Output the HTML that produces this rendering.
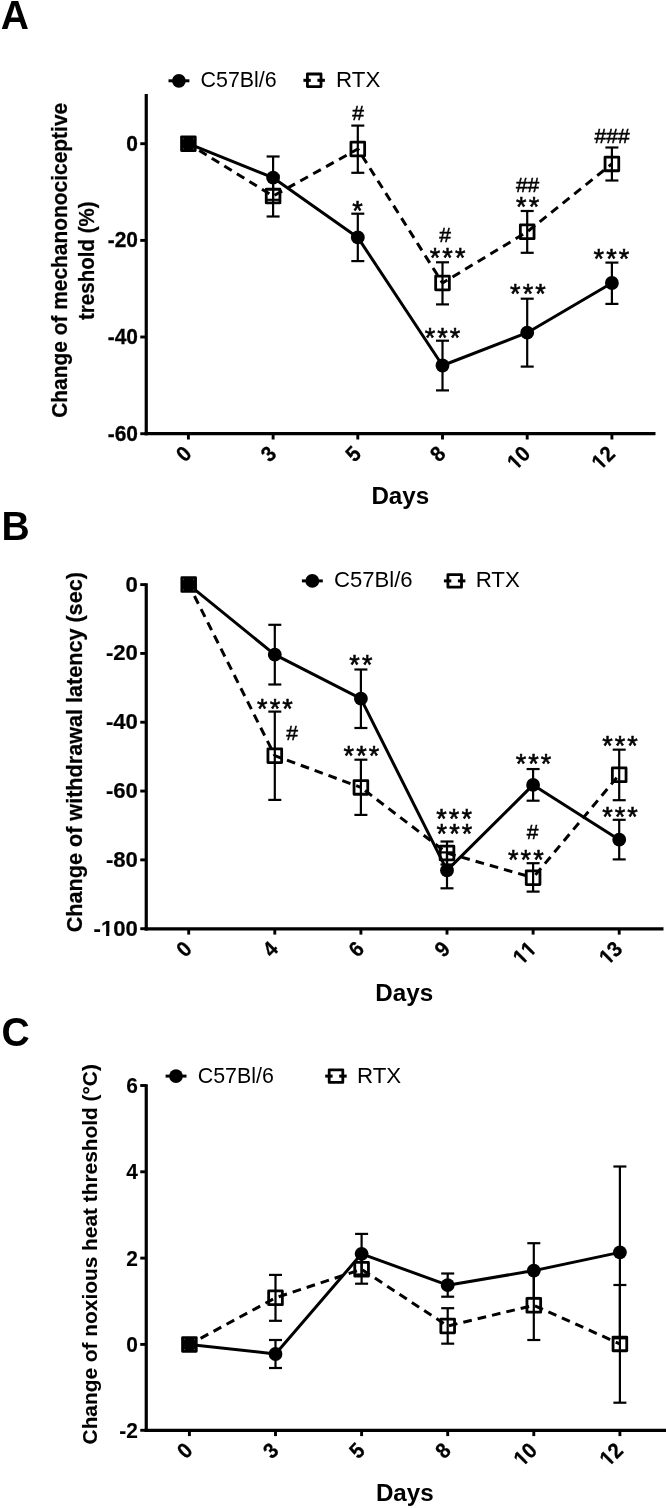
<!DOCTYPE html>
<html><head><meta charset="utf-8"><title>Figure</title>
<style>html,body{margin:0;padding:0;background:#fff}svg{display:block;will-change:transform}</style></head>
<body>
<svg width="666" height="1508" viewBox="0 0 666 1508" font-family="Liberation Sans, sans-serif" fill="#000">
<rect width="666" height="1508" fill="#fff"/>
<line x1="146.25" y1="93.90" x2="146.25" y2="435.30" stroke="#000" stroke-width="3.2" stroke-linecap="butt"/>
<line x1="144.65" y1="433.70" x2="655.50" y2="433.70" stroke="#000" stroke-width="3.2" stroke-linecap="butt"/>
<line x1="140.25" y1="143.70" x2="146.25" y2="143.70" stroke="#000" stroke-width="2.9" stroke-linecap="butt"/>
<text font-size="21.9" text-anchor="end" font-weight="bold" transform="translate(137.95 150.70) scale(0.955 1)" style="font-kerning:none" stroke="#000" stroke-width="0.3">0</text>
<line x1="140.25" y1="240.40" x2="146.25" y2="240.40" stroke="#000" stroke-width="2.9" stroke-linecap="butt"/>
<text font-size="21.9" text-anchor="end" font-weight="bold" transform="translate(137.95 247.40) scale(0.955 1)" style="font-kerning:none" stroke="#000" stroke-width="0.3">-20</text>
<line x1="140.25" y1="337.00" x2="146.25" y2="337.00" stroke="#000" stroke-width="2.9" stroke-linecap="butt"/>
<text font-size="21.9" text-anchor="end" font-weight="bold" transform="translate(137.95 344.00) scale(0.955 1)" style="font-kerning:none" stroke="#000" stroke-width="0.3">-40</text>
<line x1="140.25" y1="433.70" x2="146.25" y2="433.70" stroke="#000" stroke-width="2.9" stroke-linecap="butt"/>
<text font-size="21.9" text-anchor="end" font-weight="bold" transform="translate(137.95 440.70) scale(0.955 1)" style="font-kerning:none" stroke="#000" stroke-width="0.3">-60</text>
<line x1="188.40" y1="433.70" x2="188.40" y2="439.50" stroke="#000" stroke-width="2.9" stroke-linecap="butt"/>
<text font-size="21.6" text-anchor="end" font-weight="bold" transform="translate(192.90 455.20) rotate(-45) scale(0.93 1)" style="font-kerning:none" stroke="#000" stroke-width="0.3">0</text>
<line x1="273.10" y1="433.70" x2="273.10" y2="439.50" stroke="#000" stroke-width="2.9" stroke-linecap="butt"/>
<text font-size="21.6" text-anchor="end" font-weight="bold" transform="translate(277.60 455.20) rotate(-45) scale(0.93 1)" style="font-kerning:none" stroke="#000" stroke-width="0.3">3</text>
<line x1="357.80" y1="433.70" x2="357.80" y2="439.50" stroke="#000" stroke-width="2.9" stroke-linecap="butt"/>
<text font-size="21.6" text-anchor="end" font-weight="bold" transform="translate(362.30 455.20) rotate(-45) scale(0.93 1)" style="font-kerning:none" stroke="#000" stroke-width="0.3">5</text>
<line x1="442.50" y1="433.70" x2="442.50" y2="439.50" stroke="#000" stroke-width="2.9" stroke-linecap="butt"/>
<text font-size="21.6" text-anchor="end" font-weight="bold" transform="translate(447.00 455.20) rotate(-45) scale(0.93 1)" style="font-kerning:none" stroke="#000" stroke-width="0.3">8</text>
<line x1="527.20" y1="433.70" x2="527.20" y2="439.50" stroke="#000" stroke-width="2.9" stroke-linecap="butt"/>
<g transform="translate(531.70 455.20) rotate(-45) scale(0.93 1)">
<text font-size="21.6" text-anchor="end" font-weight="bold" style="font-kerning:none" stroke="#000" stroke-width="0.3">10</text>
<rect x="-23.67" y="-2.90" width="4.63" height="3.60" fill="#fff"/>
<rect x="-15.97" y="-2.90" width="4.36" height="3.60" fill="#fff"/>
</g>
<line x1="611.90" y1="433.70" x2="611.90" y2="439.50" stroke="#000" stroke-width="2.9" stroke-linecap="butt"/>
<g transform="translate(616.40 455.20) rotate(-45) scale(0.93 1)">
<text font-size="21.6" text-anchor="end" font-weight="bold" style="font-kerning:none" stroke="#000" stroke-width="0.3">12</text>
<rect x="-23.67" y="-2.90" width="4.63" height="3.60" fill="#fff"/>
<rect x="-15.97" y="-2.90" width="4.36" height="3.60" fill="#fff"/>
</g>
<text font-size="40.5" text-anchor="start" font-weight="bold" transform="translate(0.70 29.10) scale(0.965 1)" style="font-kerning:none">A</text>
<text x="400.30" y="503.80" font-size="24.2" text-anchor="middle" font-weight="bold">Days</text>
<text x="67.40" y="260.35" font-size="21.8" text-anchor="middle" font-weight="bold" transform="rotate(-90 67.40 260.35)" textLength="315" lengthAdjust="spacingAndGlyphs" stroke="#000" stroke-width="0.25">Change of mechanonociceptive</text>
<text x="93.60" y="260.70" font-size="21.8" text-anchor="middle" font-weight="bold" transform="rotate(-90 93.60 260.70)" textLength="118.5" lengthAdjust="spacingAndGlyphs" stroke="#000" stroke-width="0.25">treshold (%)</text>
<line x1="188.40" y1="143.70" x2="273.10" y2="196.10" stroke="#000" stroke-width="3.0" stroke-dasharray="8.7 6.05" stroke-dashoffset="2.00"/>
<line x1="273.10" y1="196.10" x2="357.80" y2="149.00" stroke="#000" stroke-width="3.0" stroke-dasharray="8.7 6.05" stroke-dashoffset="13.10"/>
<line x1="357.80" y1="149.00" x2="442.50" y2="283.00" stroke="#000" stroke-width="3.0" stroke-dasharray="8.7 6.05" stroke-dashoffset="6.76"/>
<line x1="442.50" y1="283.00" x2="527.20" y2="231.80" stroke="#000" stroke-width="3.0" stroke-dasharray="8.7 6.05" stroke-dashoffset="3.04"/>
<line x1="527.20" y1="231.80" x2="611.90" y2="163.90" stroke="#000" stroke-width="3.0" stroke-dasharray="8.7 6.05" stroke-dashoffset="13.51"/>
<polyline points="188.40,143.70 273.10,177.70 357.80,237.40 442.50,365.50 527.20,332.70 611.90,283.00" fill="none" stroke="#000" stroke-width="3.0" stroke-linejoin="round"/>
<line x1="273.10" y1="175.70" x2="273.10" y2="216.50" stroke="#000" stroke-width="2.2" stroke-linecap="butt"/>
<line x1="266.60" y1="175.70" x2="279.60" y2="175.70" stroke="#000" stroke-width="2.2" stroke-linecap="butt"/>
<line x1="266.60" y1="216.50" x2="279.60" y2="216.50" stroke="#000" stroke-width="2.2" stroke-linecap="butt"/>
<line x1="357.80" y1="125.60" x2="357.80" y2="172.80" stroke="#000" stroke-width="2.2" stroke-linecap="butt"/>
<line x1="351.30" y1="125.60" x2="364.30" y2="125.60" stroke="#000" stroke-width="2.2" stroke-linecap="butt"/>
<line x1="351.30" y1="172.80" x2="364.30" y2="172.80" stroke="#000" stroke-width="2.2" stroke-linecap="butt"/>
<line x1="442.50" y1="262.30" x2="442.50" y2="304.40" stroke="#000" stroke-width="2.2" stroke-linecap="butt"/>
<line x1="436.00" y1="262.30" x2="449.00" y2="262.30" stroke="#000" stroke-width="2.2" stroke-linecap="butt"/>
<line x1="436.00" y1="304.40" x2="449.00" y2="304.40" stroke="#000" stroke-width="2.2" stroke-linecap="butt"/>
<line x1="527.20" y1="211.00" x2="527.20" y2="252.80" stroke="#000" stroke-width="2.2" stroke-linecap="butt"/>
<line x1="520.70" y1="211.00" x2="533.70" y2="211.00" stroke="#000" stroke-width="2.2" stroke-linecap="butt"/>
<line x1="520.70" y1="252.80" x2="533.70" y2="252.80" stroke="#000" stroke-width="2.2" stroke-linecap="butt"/>
<line x1="611.90" y1="147.50" x2="611.90" y2="180.50" stroke="#000" stroke-width="2.2" stroke-linecap="butt"/>
<line x1="605.40" y1="147.50" x2="618.40" y2="147.50" stroke="#000" stroke-width="2.2" stroke-linecap="butt"/>
<line x1="605.40" y1="180.50" x2="618.40" y2="180.50" stroke="#000" stroke-width="2.2" stroke-linecap="butt"/>
<line x1="273.10" y1="156.50" x2="273.10" y2="199.80" stroke="#000" stroke-width="2.2" stroke-linecap="butt"/>
<line x1="266.60" y1="156.50" x2="279.60" y2="156.50" stroke="#000" stroke-width="2.2" stroke-linecap="butt"/>
<line x1="266.60" y1="199.80" x2="279.60" y2="199.80" stroke="#000" stroke-width="2.2" stroke-linecap="butt"/>
<line x1="357.80" y1="213.70" x2="357.80" y2="261.10" stroke="#000" stroke-width="2.2" stroke-linecap="butt"/>
<line x1="351.30" y1="213.70" x2="364.30" y2="213.70" stroke="#000" stroke-width="2.2" stroke-linecap="butt"/>
<line x1="351.30" y1="261.10" x2="364.30" y2="261.10" stroke="#000" stroke-width="2.2" stroke-linecap="butt"/>
<line x1="442.50" y1="340.70" x2="442.50" y2="390.40" stroke="#000" stroke-width="2.2" stroke-linecap="butt"/>
<line x1="436.00" y1="340.70" x2="449.00" y2="340.70" stroke="#000" stroke-width="2.2" stroke-linecap="butt"/>
<line x1="436.00" y1="390.40" x2="449.00" y2="390.40" stroke="#000" stroke-width="2.2" stroke-linecap="butt"/>
<line x1="527.20" y1="298.70" x2="527.20" y2="366.60" stroke="#000" stroke-width="2.2" stroke-linecap="butt"/>
<line x1="520.70" y1="298.70" x2="533.70" y2="298.70" stroke="#000" stroke-width="2.2" stroke-linecap="butt"/>
<line x1="520.70" y1="366.60" x2="533.70" y2="366.60" stroke="#000" stroke-width="2.2" stroke-linecap="butt"/>
<line x1="611.90" y1="262.60" x2="611.90" y2="303.90" stroke="#000" stroke-width="2.2" stroke-linecap="butt"/>
<line x1="605.40" y1="262.60" x2="618.40" y2="262.60" stroke="#000" stroke-width="2.2" stroke-linecap="butt"/>
<line x1="605.40" y1="303.90" x2="618.40" y2="303.90" stroke="#000" stroke-width="2.2" stroke-linecap="butt"/>
<circle cx="273.10" cy="177.70" r="6.9" fill="#000"/>
<circle cx="357.80" cy="237.40" r="6.9" fill="#000"/>
<circle cx="442.50" cy="365.50" r="6.9" fill="#000"/>
<circle cx="527.20" cy="332.70" r="6.9" fill="#000"/>
<circle cx="611.90" cy="283.00" r="6.9" fill="#000"/>
<rect x="181.55" y="136.85" width="13.7" height="13.7" fill="#000" stroke="#000" stroke-width="2.8" stroke-linejoin="round"/>
<circle cx="183.35" cy="138.65" r="0.5" fill="#666"/>
<circle cx="183.35" cy="148.75" r="0.5" fill="#666"/>
<circle cx="193.45" cy="138.65" r="0.5" fill="#666"/>
<circle cx="193.45" cy="148.75" r="0.5" fill="#666"/>
<rect x="266.25" y="189.25" width="13.7" height="13.7" fill="none" stroke="#000" stroke-width="2.8" stroke-linejoin="round"/>
<rect x="350.95" y="142.15" width="13.7" height="13.7" fill="none" stroke="#000" stroke-width="2.8" stroke-linejoin="round"/>
<rect x="435.65" y="276.15" width="13.7" height="13.7" fill="none" stroke="#000" stroke-width="2.8" stroke-linejoin="round"/>
<rect x="520.35" y="224.95" width="13.7" height="13.7" fill="none" stroke="#000" stroke-width="2.8" stroke-linejoin="round"/>
<rect x="605.05" y="157.05" width="13.7" height="13.7" fill="none" stroke="#000" stroke-width="2.8" stroke-linejoin="round"/>
<text x="358.00" y="119.60" font-size="21" text-anchor="middle" stroke="#000" stroke-width="0.5">#</text>
<text x="357.60" y="219.84" font-size="27" text-anchor="middle" stroke="#000" stroke-width="0.55">*</text>
<text x="435.00" y="267.14" font-size="27" text-anchor="middle" stroke="#000" stroke-width="0.55">*</text>
<text x="447.60" y="267.14" font-size="27" text-anchor="middle" stroke="#000" stroke-width="0.55">*</text>
<text x="460.20" y="267.14" font-size="27" text-anchor="middle" stroke="#000" stroke-width="0.55">*</text>
<text x="445.00" y="241.60" font-size="21" text-anchor="middle" stroke="#000" stroke-width="0.5">#</text>
<text x="429.90" y="346.54" font-size="27" text-anchor="middle" stroke="#000" stroke-width="0.55">*</text>
<text x="442.50" y="346.54" font-size="27" text-anchor="middle" stroke="#000" stroke-width="0.55">*</text>
<text x="455.10" y="346.54" font-size="27" text-anchor="middle" stroke="#000" stroke-width="0.55">*</text>
<text x="521.30" y="216.04" font-size="27" text-anchor="middle" stroke="#000" stroke-width="0.55">*</text>
<text x="533.90" y="216.04" font-size="27" text-anchor="middle" stroke="#000" stroke-width="0.55">*</text>
<text x="527.60" y="192.20" font-size="21" text-anchor="middle" stroke="#000" stroke-width="0.5">##</text>
<text x="515.30" y="303.34" font-size="27" text-anchor="middle" stroke="#000" stroke-width="0.55">*</text>
<text x="527.90" y="303.34" font-size="27" text-anchor="middle" stroke="#000" stroke-width="0.55">*</text>
<text x="540.50" y="303.34" font-size="27" text-anchor="middle" stroke="#000" stroke-width="0.55">*</text>
<text x="612.10" y="143.20" font-size="21" text-anchor="middle" stroke="#000" stroke-width="0.5">###</text>
<text x="598.80" y="268.04" font-size="27" text-anchor="middle" stroke="#000" stroke-width="0.55">*</text>
<text x="611.40" y="268.04" font-size="27" text-anchor="middle" stroke="#000" stroke-width="0.55">*</text>
<text x="624.00" y="268.04" font-size="27" text-anchor="middle" stroke="#000" stroke-width="0.55">*</text>
<line x1="168.50" y1="80.80" x2="189.40" y2="80.80" stroke="#000" stroke-width="3.0" stroke-linecap="butt"/>
<circle cx="178.90" cy="80.80" r="6.9" fill="#000"/>
<text x="200.60" y="87.30" font-size="21.4" text-anchor="start">C57Bl/6</text>
<line x1="303.40" y1="80.30" x2="310.80" y2="80.30" stroke="#000" stroke-width="3.0" stroke-linecap="butt"/>
<line x1="317.40" y1="80.30" x2="324.90" y2="80.30" stroke="#000" stroke-width="3.0" stroke-linecap="butt"/>
<rect x="307.40" y="74.00" width="13.6" height="12.6" fill="none" stroke="#000" stroke-width="2.8" stroke-linejoin="round"/>
<text x="336.07" y="86.80" font-size="22.3" text-anchor="start">RTX</text>
<line x1="146.25" y1="583.35" x2="146.25" y2="930.40" stroke="#000" stroke-width="3.2" stroke-linecap="butt"/>
<line x1="144.65" y1="928.80" x2="663.50" y2="928.80" stroke="#000" stroke-width="3.2" stroke-linecap="butt"/>
<line x1="140.25" y1="584.60" x2="146.25" y2="584.60" stroke="#000" stroke-width="2.9" stroke-linecap="butt"/>
<text font-size="22.5" text-anchor="end" font-weight="bold" transform="translate(137.95 591.60) scale(0.985 1)" style="font-kerning:none" stroke="#000" stroke-width="0.2">0</text>
<line x1="140.25" y1="653.42" x2="146.25" y2="653.42" stroke="#000" stroke-width="2.9" stroke-linecap="butt"/>
<text font-size="22.5" text-anchor="end" font-weight="bold" transform="translate(137.95 660.42) scale(0.985 1)" style="font-kerning:none" stroke="#000" stroke-width="0.2">-20</text>
<line x1="140.25" y1="722.24" x2="146.25" y2="722.24" stroke="#000" stroke-width="2.9" stroke-linecap="butt"/>
<text font-size="22.5" text-anchor="end" font-weight="bold" transform="translate(137.95 729.24) scale(0.985 1)" style="font-kerning:none" stroke="#000" stroke-width="0.2">-40</text>
<line x1="140.25" y1="791.06" x2="146.25" y2="791.06" stroke="#000" stroke-width="2.9" stroke-linecap="butt"/>
<text font-size="22.5" text-anchor="end" font-weight="bold" transform="translate(137.95 798.06) scale(0.985 1)" style="font-kerning:none" stroke="#000" stroke-width="0.2">-60</text>
<line x1="140.25" y1="859.88" x2="146.25" y2="859.88" stroke="#000" stroke-width="2.9" stroke-linecap="butt"/>
<text font-size="22.5" text-anchor="end" font-weight="bold" transform="translate(137.95 866.88) scale(0.985 1)" style="font-kerning:none" stroke="#000" stroke-width="0.2">-80</text>
<line x1="140.25" y1="928.70" x2="146.25" y2="928.70" stroke="#000" stroke-width="2.9" stroke-linecap="butt"/>
<g transform="translate(137.95 935.70) scale(0.985 1)">
<text font-size="22.5" text-anchor="end" font-weight="bold" style="font-kerning:none" stroke="#000" stroke-width="0.2">-100</text>
<rect x="-37.12" y="-3.00" width="4.78" height="3.70" fill="#fff"/>
<rect x="-29.15" y="-3.00" width="4.50" height="3.70" fill="#fff"/>
</g>
<line x1="188.70" y1="928.80" x2="188.70" y2="934.60" stroke="#000" stroke-width="2.9" stroke-linecap="butt"/>
<text font-size="21.6" text-anchor="end" font-weight="bold" transform="translate(193.20 950.30) rotate(-45) scale(0.93 1)" style="font-kerning:none" stroke="#000" stroke-width="0.3">0</text>
<line x1="274.80" y1="928.80" x2="274.80" y2="934.60" stroke="#000" stroke-width="2.9" stroke-linecap="butt"/>
<text font-size="21.6" text-anchor="end" font-weight="bold" transform="translate(279.30 950.30) rotate(-45) scale(0.93 1)" style="font-kerning:none" stroke="#000" stroke-width="0.3">4</text>
<line x1="360.90" y1="928.80" x2="360.90" y2="934.60" stroke="#000" stroke-width="2.9" stroke-linecap="butt"/>
<text font-size="21.6" text-anchor="end" font-weight="bold" transform="translate(365.40 950.30) rotate(-45) scale(0.93 1)" style="font-kerning:none" stroke="#000" stroke-width="0.3">6</text>
<line x1="447.00" y1="928.80" x2="447.00" y2="934.60" stroke="#000" stroke-width="2.9" stroke-linecap="butt"/>
<text font-size="21.6" text-anchor="end" font-weight="bold" transform="translate(451.50 950.30) rotate(-45) scale(0.93 1)" style="font-kerning:none" stroke="#000" stroke-width="0.3">9</text>
<line x1="533.10" y1="928.80" x2="533.10" y2="934.60" stroke="#000" stroke-width="2.9" stroke-linecap="butt"/>
<g transform="translate(537.60 950.30) rotate(-45) scale(0.93 1)">
<text font-size="21.6" text-anchor="end" font-weight="bold" style="font-kerning:none" stroke="#000" stroke-width="0.3">11</text>
<rect x="-23.67" y="-2.90" width="4.63" height="3.60" fill="#fff"/>
<rect x="-15.97" y="-2.90" width="4.36" height="3.60" fill="#fff"/>
<rect x="-11.65" y="-2.90" width="4.63" height="3.60" fill="#fff"/>
<rect x="-3.96" y="-2.90" width="4.36" height="3.60" fill="#fff"/>
</g>
<line x1="619.20" y1="928.80" x2="619.20" y2="934.60" stroke="#000" stroke-width="2.9" stroke-linecap="butt"/>
<g transform="translate(623.70 950.30) rotate(-45) scale(0.93 1)">
<text font-size="21.6" text-anchor="end" font-weight="bold" style="font-kerning:none" stroke="#000" stroke-width="0.3">13</text>
<rect x="-23.67" y="-2.90" width="4.63" height="3.60" fill="#fff"/>
<rect x="-15.97" y="-2.90" width="4.36" height="3.60" fill="#fff"/>
</g>
<text font-size="40.5" text-anchor="start" font-weight="bold" transform="translate(1.40 539.70) scale(0.965 1)" style="font-kerning:none">B</text>
<text x="404.20" y="1000.80" font-size="24.2" text-anchor="middle" font-weight="bold">Days</text>
<text x="81.80" y="752.20" font-size="21.5" text-anchor="middle" font-weight="bold" transform="rotate(-90 81.80 752.20)" textLength="360.1" lengthAdjust="spacingAndGlyphs" stroke="#000" stroke-width="0.25">Change of withdrawal latency (sec)</text>
<line x1="188.70" y1="584.60" x2="274.80" y2="755.70" stroke="#000" stroke-width="3.0" stroke-dasharray="8.7 6.05" stroke-dashoffset="2.00"/>
<line x1="274.80" y1="755.70" x2="360.90" y2="787.40" stroke="#000" stroke-width="3.0" stroke-dasharray="8.7 6.05" stroke-dashoffset="1.79"/>
<line x1="360.90" y1="787.40" x2="447.00" y2="853.00" stroke="#000" stroke-width="3.0" stroke-dasharray="8.7 6.05" stroke-dashoffset="9.55"/>
<line x1="447.00" y1="853.00" x2="533.10" y2="877.70" stroke="#000" stroke-width="3.0" stroke-dasharray="8.7 6.05" stroke-dashoffset="14.50"/>
<line x1="533.10" y1="877.70" x2="619.20" y2="774.80" stroke="#000" stroke-width="3.0" stroke-dasharray="8.7 6.05" stroke-dashoffset="11.11"/>
<polyline points="188.70,584.60 274.80,654.70 360.90,698.70 447.00,870.40 533.10,784.90 619.20,839.70" fill="none" stroke="#000" stroke-width="3.0" stroke-linejoin="round"/>
<line x1="274.80" y1="711.60" x2="274.80" y2="799.90" stroke="#000" stroke-width="2.2" stroke-linecap="butt"/>
<line x1="268.30" y1="711.60" x2="281.30" y2="711.60" stroke="#000" stroke-width="2.2" stroke-linecap="butt"/>
<line x1="268.30" y1="799.90" x2="281.30" y2="799.90" stroke="#000" stroke-width="2.2" stroke-linecap="butt"/>
<line x1="360.90" y1="759.70" x2="360.90" y2="814.90" stroke="#000" stroke-width="2.2" stroke-linecap="butt"/>
<line x1="354.40" y1="759.70" x2="367.40" y2="759.70" stroke="#000" stroke-width="2.2" stroke-linecap="butt"/>
<line x1="354.40" y1="814.90" x2="367.40" y2="814.90" stroke="#000" stroke-width="2.2" stroke-linecap="butt"/>
<line x1="447.00" y1="841.50" x2="447.00" y2="864.50" stroke="#000" stroke-width="2.2" stroke-linecap="butt"/>
<line x1="440.50" y1="841.50" x2="453.50" y2="841.50" stroke="#000" stroke-width="2.2" stroke-linecap="butt"/>
<line x1="440.50" y1="864.50" x2="453.50" y2="864.50" stroke="#000" stroke-width="2.2" stroke-linecap="butt"/>
<line x1="533.10" y1="863.20" x2="533.10" y2="891.60" stroke="#000" stroke-width="2.2" stroke-linecap="butt"/>
<line x1="526.60" y1="863.20" x2="539.60" y2="863.20" stroke="#000" stroke-width="2.2" stroke-linecap="butt"/>
<line x1="526.60" y1="891.60" x2="539.60" y2="891.60" stroke="#000" stroke-width="2.2" stroke-linecap="butt"/>
<line x1="619.20" y1="749.65" x2="619.20" y2="800.20" stroke="#000" stroke-width="2.2" stroke-linecap="butt"/>
<line x1="612.70" y1="749.65" x2="625.70" y2="749.65" stroke="#000" stroke-width="2.2" stroke-linecap="butt"/>
<line x1="612.70" y1="800.20" x2="625.70" y2="800.20" stroke="#000" stroke-width="2.2" stroke-linecap="butt"/>
<line x1="274.80" y1="624.80" x2="274.80" y2="684.50" stroke="#000" stroke-width="2.2" stroke-linecap="butt"/>
<line x1="268.30" y1="624.80" x2="281.30" y2="624.80" stroke="#000" stroke-width="2.2" stroke-linecap="butt"/>
<line x1="268.30" y1="684.50" x2="281.30" y2="684.50" stroke="#000" stroke-width="2.2" stroke-linecap="butt"/>
<line x1="360.90" y1="669.50" x2="360.90" y2="728.00" stroke="#000" stroke-width="2.2" stroke-linecap="butt"/>
<line x1="354.40" y1="669.50" x2="367.40" y2="669.50" stroke="#000" stroke-width="2.2" stroke-linecap="butt"/>
<line x1="354.40" y1="728.00" x2="367.40" y2="728.00" stroke="#000" stroke-width="2.2" stroke-linecap="butt"/>
<line x1="447.00" y1="852.40" x2="447.00" y2="888.30" stroke="#000" stroke-width="2.2" stroke-linecap="butt"/>
<line x1="440.50" y1="852.40" x2="453.50" y2="852.40" stroke="#000" stroke-width="2.2" stroke-linecap="butt"/>
<line x1="440.50" y1="888.30" x2="453.50" y2="888.30" stroke="#000" stroke-width="2.2" stroke-linecap="butt"/>
<line x1="533.10" y1="769.05" x2="533.10" y2="800.70" stroke="#000" stroke-width="2.2" stroke-linecap="butt"/>
<line x1="526.60" y1="769.05" x2="539.60" y2="769.05" stroke="#000" stroke-width="2.2" stroke-linecap="butt"/>
<line x1="526.60" y1="800.70" x2="539.60" y2="800.70" stroke="#000" stroke-width="2.2" stroke-linecap="butt"/>
<line x1="619.20" y1="819.80" x2="619.20" y2="859.40" stroke="#000" stroke-width="2.2" stroke-linecap="butt"/>
<line x1="612.70" y1="819.80" x2="625.70" y2="819.80" stroke="#000" stroke-width="2.2" stroke-linecap="butt"/>
<line x1="612.70" y1="859.40" x2="625.70" y2="859.40" stroke="#000" stroke-width="2.2" stroke-linecap="butt"/>
<circle cx="274.80" cy="654.70" r="6.9" fill="#000"/>
<circle cx="360.90" cy="698.70" r="6.9" fill="#000"/>
<circle cx="447.00" cy="870.40" r="6.9" fill="#000"/>
<circle cx="533.10" cy="784.90" r="6.9" fill="#000"/>
<circle cx="619.20" cy="839.70" r="6.9" fill="#000"/>
<rect x="181.85" y="577.75" width="13.7" height="13.7" fill="#000" stroke="#000" stroke-width="2.8" stroke-linejoin="round"/>
<circle cx="183.65" cy="579.55" r="0.5" fill="#666"/>
<circle cx="183.65" cy="589.65" r="0.5" fill="#666"/>
<circle cx="193.75" cy="579.55" r="0.5" fill="#666"/>
<circle cx="193.75" cy="589.65" r="0.5" fill="#666"/>
<rect x="267.95" y="748.85" width="13.7" height="13.7" fill="none" stroke="#000" stroke-width="2.8" stroke-linejoin="round"/>
<rect x="354.05" y="780.55" width="13.7" height="13.7" fill="none" stroke="#000" stroke-width="2.8" stroke-linejoin="round"/>
<rect x="440.15" y="846.15" width="13.7" height="13.7" fill="none" stroke="#000" stroke-width="2.8" stroke-linejoin="round"/>
<rect x="526.25" y="870.85" width="13.7" height="13.7" fill="none" stroke="#000" stroke-width="2.8" stroke-linejoin="round"/>
<rect x="612.35" y="767.95" width="13.7" height="13.7" fill="none" stroke="#000" stroke-width="2.8" stroke-linejoin="round"/>
<text x="262.30" y="717.74" font-size="27" text-anchor="middle" stroke="#000" stroke-width="0.55">*</text>
<text x="274.90" y="717.74" font-size="27" text-anchor="middle" stroke="#000" stroke-width="0.55">*</text>
<text x="287.50" y="717.74" font-size="27" text-anchor="middle" stroke="#000" stroke-width="0.55">*</text>
<text x="292.00" y="740.20" font-size="21" text-anchor="middle" stroke="#000" stroke-width="0.5">#</text>
<text x="354.60" y="674.24" font-size="27" text-anchor="middle" stroke="#000" stroke-width="0.55">*</text>
<text x="367.20" y="674.24" font-size="27" text-anchor="middle" stroke="#000" stroke-width="0.55">*</text>
<text x="348.80" y="765.04" font-size="27" text-anchor="middle" stroke="#000" stroke-width="0.55">*</text>
<text x="361.40" y="765.04" font-size="27" text-anchor="middle" stroke="#000" stroke-width="0.55">*</text>
<text x="374.00" y="765.04" font-size="27" text-anchor="middle" stroke="#000" stroke-width="0.55">*</text>
<text x="441.50" y="828.14" font-size="27" text-anchor="middle" stroke="#000" stroke-width="0.55">*</text>
<text x="454.10" y="828.14" font-size="27" text-anchor="middle" stroke="#000" stroke-width="0.55">*</text>
<text x="466.70" y="828.14" font-size="27" text-anchor="middle" stroke="#000" stroke-width="0.55">*</text>
<text x="441.80" y="843.24" font-size="27" text-anchor="middle" stroke="#000" stroke-width="0.55">*</text>
<text x="454.40" y="843.24" font-size="27" text-anchor="middle" stroke="#000" stroke-width="0.55">*</text>
<text x="467.00" y="843.24" font-size="27" text-anchor="middle" stroke="#000" stroke-width="0.55">*</text>
<text x="520.90" y="773.44" font-size="27" text-anchor="middle" stroke="#000" stroke-width="0.55">*</text>
<text x="533.50" y="773.44" font-size="27" text-anchor="middle" stroke="#000" stroke-width="0.55">*</text>
<text x="546.10" y="773.44" font-size="27" text-anchor="middle" stroke="#000" stroke-width="0.55">*</text>
<text x="513.20" y="868.74" font-size="27" text-anchor="middle" stroke="#000" stroke-width="0.55">*</text>
<text x="525.80" y="868.74" font-size="27" text-anchor="middle" stroke="#000" stroke-width="0.55">*</text>
<text x="538.40" y="868.74" font-size="27" text-anchor="middle" stroke="#000" stroke-width="0.55">*</text>
<text x="532.50" y="838.95" font-size="21" text-anchor="middle" stroke="#000" stroke-width="0.5">#</text>
<text x="607.40" y="754.64" font-size="27" text-anchor="middle" stroke="#000" stroke-width="0.55">*</text>
<text x="620.00" y="754.64" font-size="27" text-anchor="middle" stroke="#000" stroke-width="0.55">*</text>
<text x="632.60" y="754.64" font-size="27" text-anchor="middle" stroke="#000" stroke-width="0.55">*</text>
<text x="607.40" y="826.34" font-size="27" text-anchor="middle" stroke="#000" stroke-width="0.55">*</text>
<text x="620.00" y="826.34" font-size="27" text-anchor="middle" stroke="#000" stroke-width="0.55">*</text>
<text x="632.60" y="826.34" font-size="27" text-anchor="middle" stroke="#000" stroke-width="0.55">*</text>
<line x1="301.90" y1="580.90" x2="322.80" y2="580.90" stroke="#000" stroke-width="3.0" stroke-linecap="butt"/>
<circle cx="312.30" cy="580.90" r="6.9" fill="#000"/>
<text x="334.00" y="587.40" font-size="22.1" text-anchor="start">C57Bl/6</text>
<line x1="443.90" y1="580.90" x2="451.30" y2="580.90" stroke="#000" stroke-width="3.0" stroke-linecap="butt"/>
<line x1="457.90" y1="580.90" x2="465.40" y2="580.90" stroke="#000" stroke-width="3.0" stroke-linecap="butt"/>
<rect x="447.90" y="574.60" width="13.6" height="12.6" fill="none" stroke="#000" stroke-width="2.8" stroke-linejoin="round"/>
<text x="475.67" y="587.40" font-size="22.3" text-anchor="start">RTX</text>
<line x1="146.25" y1="1084.25" x2="146.25" y2="1431.90" stroke="#000" stroke-width="3.2" stroke-linecap="butt"/>
<line x1="144.65" y1="1430.30" x2="666.00" y2="1430.30" stroke="#000" stroke-width="3.2" stroke-linecap="butt"/>
<line x1="140.25" y1="1085.50" x2="146.25" y2="1085.50" stroke="#000" stroke-width="2.9" stroke-linecap="butt"/>
<text font-size="21.9" text-anchor="end" font-weight="bold" transform="translate(137.95 1092.90) scale(0.955 1)" style="font-kerning:none" stroke="#000" stroke-width="0.1">6</text>
<line x1="140.25" y1="1171.80" x2="146.25" y2="1171.80" stroke="#000" stroke-width="2.9" stroke-linecap="butt"/>
<text font-size="21.9" text-anchor="end" font-weight="bold" transform="translate(137.95 1179.20) scale(0.955 1)" style="font-kerning:none" stroke="#000" stroke-width="0.1">4</text>
<line x1="140.25" y1="1258.10" x2="146.25" y2="1258.10" stroke="#000" stroke-width="2.9" stroke-linecap="butt"/>
<text font-size="21.9" text-anchor="end" font-weight="bold" transform="translate(137.95 1265.50) scale(0.955 1)" style="font-kerning:none" stroke="#000" stroke-width="0.1">2</text>
<line x1="140.25" y1="1344.40" x2="146.25" y2="1344.40" stroke="#000" stroke-width="2.9" stroke-linecap="butt"/>
<text font-size="21.9" text-anchor="end" font-weight="bold" transform="translate(137.95 1351.80) scale(0.955 1)" style="font-kerning:none" stroke="#000" stroke-width="0.1">0</text>
<line x1="140.25" y1="1430.30" x2="146.25" y2="1430.30" stroke="#000" stroke-width="2.9" stroke-linecap="butt"/>
<text font-size="21.9" text-anchor="end" font-weight="bold" transform="translate(137.95 1437.70) scale(0.955 1)" style="font-kerning:none" stroke="#000" stroke-width="0.1">-2</text>
<line x1="189.40" y1="1430.30" x2="189.40" y2="1436.10" stroke="#000" stroke-width="2.9" stroke-linecap="butt"/>
<text font-size="21.6" text-anchor="end" font-weight="bold" transform="translate(193.90 1451.80) rotate(-45) scale(0.93 1)" style="font-kerning:none" stroke="#000" stroke-width="0.3">0</text>
<line x1="275.50" y1="1430.30" x2="275.50" y2="1436.10" stroke="#000" stroke-width="2.9" stroke-linecap="butt"/>
<text font-size="21.6" text-anchor="end" font-weight="bold" transform="translate(280.00 1451.80) rotate(-45) scale(0.93 1)" style="font-kerning:none" stroke="#000" stroke-width="0.3">3</text>
<line x1="361.60" y1="1430.30" x2="361.60" y2="1436.10" stroke="#000" stroke-width="2.9" stroke-linecap="butt"/>
<text font-size="21.6" text-anchor="end" font-weight="bold" transform="translate(366.10 1451.80) rotate(-45) scale(0.93 1)" style="font-kerning:none" stroke="#000" stroke-width="0.3">5</text>
<line x1="447.70" y1="1430.30" x2="447.70" y2="1436.10" stroke="#000" stroke-width="2.9" stroke-linecap="butt"/>
<text font-size="21.6" text-anchor="end" font-weight="bold" transform="translate(452.20 1451.80) rotate(-45) scale(0.93 1)" style="font-kerning:none" stroke="#000" stroke-width="0.3">8</text>
<line x1="533.80" y1="1430.30" x2="533.80" y2="1436.10" stroke="#000" stroke-width="2.9" stroke-linecap="butt"/>
<g transform="translate(538.30 1451.80) rotate(-45) scale(0.93 1)">
<text font-size="21.6" text-anchor="end" font-weight="bold" style="font-kerning:none" stroke="#000" stroke-width="0.3">10</text>
<rect x="-23.67" y="-2.90" width="4.63" height="3.60" fill="#fff"/>
<rect x="-15.97" y="-2.90" width="4.36" height="3.60" fill="#fff"/>
</g>
<line x1="619.90" y1="1430.30" x2="619.90" y2="1436.10" stroke="#000" stroke-width="2.9" stroke-linecap="butt"/>
<g transform="translate(624.40 1451.80) rotate(-45) scale(0.93 1)">
<text font-size="21.6" text-anchor="end" font-weight="bold" style="font-kerning:none" stroke="#000" stroke-width="0.3">12</text>
<rect x="-23.67" y="-2.90" width="4.63" height="3.60" fill="#fff"/>
<rect x="-15.97" y="-2.90" width="4.36" height="3.60" fill="#fff"/>
</g>
<text font-size="40.5" text-anchor="start" font-weight="bold" transform="translate(1.40 1045.60) scale(0.965 1)" style="font-kerning:none">C</text>
<text x="404.80" y="1500.60" font-size="24.2" text-anchor="middle" font-weight="bold">Days</text>
<text x="96.90" y="1254.30" font-size="20.8" text-anchor="middle" font-weight="bold" transform="rotate(-90 96.90 1254.30)" textLength="380.3" lengthAdjust="spacingAndGlyphs" stroke="#000" stroke-width="0.1">Change of noxious heat threshold (°C)</text>
<line x1="189.40" y1="1344.40" x2="275.50" y2="1297.80" stroke="#000" stroke-width="3.0" stroke-dasharray="8.7 6.05" stroke-dashoffset="2.00"/>
<line x1="275.50" y1="1297.80" x2="361.60" y2="1269.30" stroke="#000" stroke-width="3.0" stroke-dasharray="8.7 6.05" stroke-dashoffset="11.40"/>
<line x1="361.60" y1="1269.30" x2="447.70" y2="1326.00" stroke="#000" stroke-width="3.0" stroke-dasharray="8.7 6.05" stroke-dashoffset="13.60"/>
<line x1="447.70" y1="1326.00" x2="533.80" y2="1305.30" stroke="#000" stroke-width="3.0" stroke-dasharray="8.7 6.05" stroke-dashoffset="13.44"/>
<line x1="533.80" y1="1305.30" x2="619.90" y2="1343.90" stroke="#000" stroke-width="3.0" stroke-dasharray="8.7 6.05" stroke-dashoffset="13.49"/>
<polyline points="189.40,1344.40 275.50,1354.00 361.60,1253.80 447.70,1285.20 533.80,1270.60 619.90,1252.40" fill="none" stroke="#000" stroke-width="3.0" stroke-linejoin="round"/>
<line x1="275.50" y1="1274.90" x2="275.50" y2="1320.80" stroke="#000" stroke-width="2.2" stroke-linecap="butt"/>
<line x1="269.00" y1="1274.90" x2="282.00" y2="1274.90" stroke="#000" stroke-width="2.2" stroke-linecap="butt"/>
<line x1="269.00" y1="1320.80" x2="282.00" y2="1320.80" stroke="#000" stroke-width="2.2" stroke-linecap="butt"/>
<line x1="361.60" y1="1253.50" x2="361.60" y2="1283.70" stroke="#000" stroke-width="2.2" stroke-linecap="butt"/>
<line x1="355.10" y1="1253.50" x2="368.10" y2="1253.50" stroke="#000" stroke-width="2.2" stroke-linecap="butt"/>
<line x1="355.10" y1="1283.70" x2="368.10" y2="1283.70" stroke="#000" stroke-width="2.2" stroke-linecap="butt"/>
<line x1="447.70" y1="1308.20" x2="447.70" y2="1343.65" stroke="#000" stroke-width="2.2" stroke-linecap="butt"/>
<line x1="441.20" y1="1308.20" x2="454.20" y2="1308.20" stroke="#000" stroke-width="2.2" stroke-linecap="butt"/>
<line x1="441.20" y1="1343.65" x2="454.20" y2="1343.65" stroke="#000" stroke-width="2.2" stroke-linecap="butt"/>
<line x1="533.80" y1="1270.60" x2="533.80" y2="1340.00" stroke="#000" stroke-width="2.2" stroke-linecap="butt"/>
<line x1="527.30" y1="1270.60" x2="540.30" y2="1270.60" stroke="#000" stroke-width="2.2" stroke-linecap="butt"/>
<line x1="527.30" y1="1340.00" x2="540.30" y2="1340.00" stroke="#000" stroke-width="2.2" stroke-linecap="butt"/>
<line x1="619.90" y1="1285.00" x2="619.90" y2="1402.70" stroke="#000" stroke-width="2.2" stroke-linecap="butt"/>
<line x1="613.40" y1="1285.00" x2="626.40" y2="1285.00" stroke="#000" stroke-width="2.2" stroke-linecap="butt"/>
<line x1="613.40" y1="1402.70" x2="626.40" y2="1402.70" stroke="#000" stroke-width="2.2" stroke-linecap="butt"/>
<line x1="275.50" y1="1340.00" x2="275.50" y2="1368.00" stroke="#000" stroke-width="2.2" stroke-linecap="butt"/>
<line x1="269.00" y1="1340.00" x2="282.00" y2="1340.00" stroke="#000" stroke-width="2.2" stroke-linecap="butt"/>
<line x1="269.00" y1="1368.00" x2="282.00" y2="1368.00" stroke="#000" stroke-width="2.2" stroke-linecap="butt"/>
<line x1="361.60" y1="1233.90" x2="361.60" y2="1274.50" stroke="#000" stroke-width="2.2" stroke-linecap="butt"/>
<line x1="355.10" y1="1233.90" x2="368.10" y2="1233.90" stroke="#000" stroke-width="2.2" stroke-linecap="butt"/>
<line x1="355.10" y1="1274.50" x2="368.10" y2="1274.50" stroke="#000" stroke-width="2.2" stroke-linecap="butt"/>
<line x1="447.70" y1="1273.50" x2="447.70" y2="1296.70" stroke="#000" stroke-width="2.2" stroke-linecap="butt"/>
<line x1="441.20" y1="1273.50" x2="454.20" y2="1273.50" stroke="#000" stroke-width="2.2" stroke-linecap="butt"/>
<line x1="441.20" y1="1296.70" x2="454.20" y2="1296.70" stroke="#000" stroke-width="2.2" stroke-linecap="butt"/>
<line x1="533.80" y1="1243.20" x2="533.80" y2="1298.00" stroke="#000" stroke-width="2.2" stroke-linecap="butt"/>
<line x1="527.30" y1="1243.20" x2="540.30" y2="1243.20" stroke="#000" stroke-width="2.2" stroke-linecap="butt"/>
<line x1="527.30" y1="1298.00" x2="540.30" y2="1298.00" stroke="#000" stroke-width="2.2" stroke-linecap="butt"/>
<line x1="619.90" y1="1166.50" x2="619.90" y2="1338.30" stroke="#000" stroke-width="2.2" stroke-linecap="butt"/>
<line x1="613.40" y1="1166.50" x2="626.40" y2="1166.50" stroke="#000" stroke-width="2.2" stroke-linecap="butt"/>
<line x1="613.40" y1="1338.30" x2="626.40" y2="1338.30" stroke="#000" stroke-width="2.2" stroke-linecap="butt"/>
<circle cx="275.50" cy="1354.00" r="6.9" fill="#000"/>
<circle cx="361.60" cy="1253.80" r="6.9" fill="#000"/>
<circle cx="447.70" cy="1285.20" r="6.9" fill="#000"/>
<circle cx="533.80" cy="1270.60" r="6.9" fill="#000"/>
<circle cx="619.90" cy="1252.40" r="6.9" fill="#000"/>
<rect x="182.55" y="1337.55" width="13.7" height="13.7" fill="#000" stroke="#000" stroke-width="2.8" stroke-linejoin="round"/>
<circle cx="184.35" cy="1339.35" r="0.5" fill="#666"/>
<circle cx="184.35" cy="1349.45" r="0.5" fill="#666"/>
<circle cx="194.45" cy="1339.35" r="0.5" fill="#666"/>
<circle cx="194.45" cy="1349.45" r="0.5" fill="#666"/>
<rect x="268.65" y="1290.95" width="13.7" height="13.7" fill="none" stroke="#000" stroke-width="2.8" stroke-linejoin="round"/>
<rect x="354.75" y="1262.45" width="13.7" height="13.7" fill="none" stroke="#000" stroke-width="2.8" stroke-linejoin="round"/>
<rect x="440.85" y="1319.15" width="13.7" height="13.7" fill="none" stroke="#000" stroke-width="2.8" stroke-linejoin="round"/>
<rect x="526.95" y="1298.45" width="13.7" height="13.7" fill="none" stroke="#000" stroke-width="2.8" stroke-linejoin="round"/>
<rect x="613.05" y="1337.05" width="13.7" height="13.7" fill="none" stroke="#000" stroke-width="2.8" stroke-linejoin="round"/>
<line x1="165.60" y1="1076.10" x2="186.50" y2="1076.10" stroke="#000" stroke-width="3.0" stroke-linecap="butt"/>
<circle cx="176.00" cy="1076.10" r="6.9" fill="#000"/>
<text x="197.70" y="1082.60" font-size="21.4" text-anchor="start">C57Bl/6</text>
<line x1="325.20" y1="1076.10" x2="332.60" y2="1076.10" stroke="#000" stroke-width="3.0" stroke-linecap="butt"/>
<line x1="339.20" y1="1076.10" x2="346.70" y2="1076.10" stroke="#000" stroke-width="3.0" stroke-linecap="butt"/>
<rect x="329.20" y="1069.80" width="13.6" height="12.6" fill="none" stroke="#000" stroke-width="2.8" stroke-linejoin="round"/>
<text x="356.97" y="1082.60" font-size="22.3" text-anchor="start">RTX</text>
</svg>
</body></html>
